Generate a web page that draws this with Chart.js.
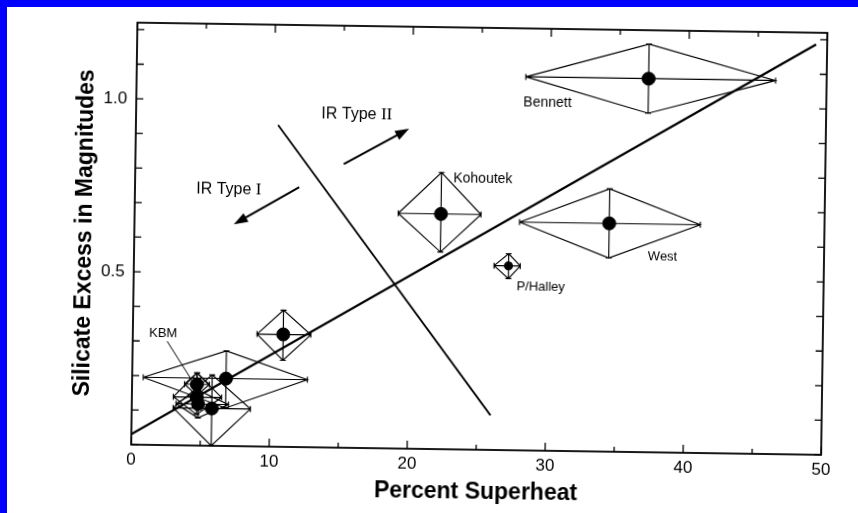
<!DOCTYPE html>
<html>
<head>
<meta charset="utf-8">
<script src="https://cdn.jsdelivr.net/npm/chart.js@4.4.1/dist/chart.umd.min.js"></script>
<style>
  html, body { margin: 0; padding: 0; background: #fff; }
  #wrap { position: relative; width: 858px; height: 513px; overflow: hidden; background: #fff; }
  #chart { position: absolute; left: 0; top: 0; transform: rotate(0.85deg); }
  .bar { position: absolute; background: #0000ff; z-index: 2; }
</style>
</head>
<body>
<div id="wrap">
  <canvas id="chart" width="858" height="513"></canvas>
  <div class="bar" style="left:0;top:0;width:858px;height:7px"></div>
  <div class="bar" style="left:0;top:0;width:7px;height:513px"></div>
</div>
<script>
// comet measurements: centre value and the ends of the error bars
const superheat = [37.1, 22.2, 34.4, 27.15, 10.9, 6.8, 4.7, 4.7, 4.8, 5.8];
const excess    = [1.08, 0.68, 0.66, 0.533, 0.325, 0.195, 0.177, 0.14, 0.12, 0.108];
const xLow  = [28.2, 19.1, 27.9, 26.1, 9.0, 0.8, 3.8, 3.0, 3.2, 3.0];
const xHigh = [46.3, 25.1, 41.0, 28.0, 12.9, 12.7, 5.6, 6.5, 7.0, 8.6];
const yLow  = [0.98, 0.57, 0.56, 0.496, 0.25, 0.11, 0.145, 0.09, 0.08, 0.0];
const yHigh = [1.18, 0.80, 0.76, 0.568, 0.395, 0.275, 0.21, 0.21, 0.16, 0.205];

// fitted line and the type I / type II divide
const fitX = [0, 49.2];
const fitY = [0.03, 1.186];
const divideX = [10.3, 26.0];
const divideY = [0.93, 0.10];

// axis ticks
const xTicks = [0, 5, 10, 15, 20, 25, 30, 35, 40, 45, 50];
const xTickLabels = ['0', '10', '20', '30', '40', '50'];
const yTicks = [0, 0.1, 0.2, 0.3, 0.4, 0.5, 0.6, 0.7, 0.8, 0.9, 1.0, 1.1, 1.2];
const yTickLabels = ['0.5', '1.0'];

// text notes on the plot
const noteText = ['Bennett', 'Kohoutek', 'West', 'P/Halley', 'KBM'];
const noteX = [29.8, 25.2, 38.3, 29.5, 2.2];
const noteY = [1.006, 0.783, 0.564, 0.474, 0.322];

// arrows: [x0, y0, x1, y1]
const arrows = [[15.1, 0.82, 19.8, 0.925], [11.9, 0.751, 7.2, 0.641]];

const sans = '"Liberation Sans", Arial, sans-serif';

const sketch = {
  id: 'sketch',
  beforeDatasetsDraw(chart) {
    const {ctx, scales: {x, y}} = chart;
    ctx.save();
    ctx.strokeStyle = '#000';
    ctx.lineWidth = 1.15;
    for (let i = 0; i < superheat.length; i++) {
      const cx = x.getPixelForValue(superheat[i]), cy = y.getPixelForValue(excess[i]);
      const l = x.getPixelForValue(xLow[i]), r = x.getPixelForValue(xHigh[i]);
      const t = y.getPixelForValue(yHigh[i]), b = y.getPixelForValue(yLow[i]);
      ctx.beginPath();
      ctx.moveTo(l, cy); ctx.lineTo(r, cy);
      ctx.moveTo(cx, t); ctx.lineTo(cx, b);
      ctx.moveTo(l, cy); ctx.lineTo(cx, t); ctx.lineTo(r, cy); ctx.lineTo(cx, b); ctx.lineTo(l, cy);
      ctx.moveTo(l, cy - 3); ctx.lineTo(l, cy + 3);
      ctx.moveTo(r, cy - 3); ctx.lineTo(r, cy + 3);
      ctx.moveTo(cx - 3, t); ctx.lineTo(cx + 3, t);
      ctx.moveTo(cx - 3, b); ctx.lineTo(cx + 3, b);
      ctx.stroke();
    }
    ctx.restore();
  },
  afterDatasetsDraw(chart) {
    const {ctx, chartArea: a, scales: {x, y}} = chart;
    ctx.save();
    // frame
    ctx.strokeStyle = '#000';
    ctx.lineWidth = 1.8;
    ctx.strokeRect(a.left, a.top, a.right - a.left, a.bottom - a.top);
    // inward ticks
    ctx.lineWidth = 1.3;
    ctx.beginPath();
    xTicks.forEach(v => {
      const px = x.getPixelForValue(v);
      const len = v % 10 === 0 ? 8 : 5;
      ctx.moveTo(px, a.bottom); ctx.lineTo(px, a.bottom - len);
      ctx.moveTo(px, a.top); ctx.lineTo(px, a.top + len);
    });
    yTicks.forEach(v => {
      const py = y.getPixelForValue(v);
      ctx.moveTo(a.left, py); ctx.lineTo(a.left + 7, py);
      ctx.moveTo(a.right, py); ctx.lineTo(a.right - 7, py);
    });
    ctx.stroke();
    // arrows
    ctx.fillStyle = '#000';
    arrows.forEach(([x0, y0, x1, y1]) => {
      const p0 = [x.getPixelForValue(x0), y.getPixelForValue(y0)];
      const p1 = [x.getPixelForValue(x1), y.getPixelForValue(y1)];
      const ang = Math.atan2(p1[1] - p0[1], p1[0] - p0[0]);
      ctx.lineWidth = 2;
      ctx.beginPath();
      ctx.moveTo(p0[0], p0[1]);
      ctx.lineTo(p1[0] - 8 * Math.cos(ang), p1[1] - 8 * Math.sin(ang));
      ctx.stroke();
      ctx.beginPath();
      ctx.moveTo(p1[0], p1[1]);
      ctx.lineTo(p1[0] - 14 * Math.cos(ang) + 5 * Math.sin(ang), p1[1] - 14 * Math.sin(ang) - 5 * Math.cos(ang));
      ctx.lineTo(p1[0] - 14 * Math.cos(ang) - 5 * Math.sin(ang), p1[1] - 14 * Math.sin(ang) + 5 * Math.cos(ang));
      ctx.closePath();
      ctx.fill();
    });
    // KBM pointer
    ctx.lineWidth = 1;
    ctx.beginPath();
    ctx.moveTo(x.getPixelForValue(2.5), y.getPixelForValue(0.30));
    ctx.lineTo(x.getPixelForValue(4.3), y.getPixelForValue(0.19));
    ctx.stroke();
    // notes
    ctx.textAlign = 'center';
    ctx.textBaseline = 'middle';
    noteText.forEach((t, i) => {
      ctx.font = (i < 2 ? '14px ' : '13px ') + sans;
      ctx.fillText(t, x.getPixelForValue(noteX[i]), y.getPixelForValue(noteY[i]));
    });
    // IR type labels: sans text with serif roman numerals
    const irLabel = (num, xv, yv) => {
      ctx.font = '16px ' + sans;
      const w1 = ctx.measureText('IR Type ').width;
      ctx.font = '17px "Liberation Serif", serif';
      const w2 = ctx.measureText(num).width;
      let sx = x.getPixelForValue(xv) - (w1 + w2) / 2;
      const sy = y.getPixelForValue(yv);
      ctx.textAlign = 'left';
      ctx.font = '16px ' + sans;
      ctx.fillText('IR Type ', sx, sy);
      ctx.font = '17px "Liberation Serif", serif';
      ctx.fillText(num, sx + w1, sy);
    };
    irLabel('II', 16.0, 0.965);
    irLabel('I', 6.8, 0.742);
    ctx.restore();
  }
};

new Chart(document.getElementById('chart'), {
  type: 'scatter',
  data: {
    datasets: [
      {
        data: superheat.map((v, i) => ({x: v, y: excess[i]})),
        backgroundColor: '#000',
        borderColor: '#000',
        pointRadius: superheat.map((v, i) => i === 3 ? 4 : 6.5),
        order: 0
      },
      {
        type: 'line',
        data: fitX.map((v, i) => ({x: v, y: fitY[i]})),
        borderColor: '#000',
        borderWidth: 2.2,
        pointRadius: 0,
        order: 1
      },
      {
        type: 'line',
        data: divideX.map((v, i) => ({x: v, y: divideY[i]})),
        borderColor: '#000',
        borderWidth: 1.8,
        pointRadius: 0,
        order: 1
      }
    ]
  },
  options: {
    responsive: false,
    devicePixelRatio: 1,
    animation: false,
    layout: {padding: {top: 27, right: 34, left: 0, bottom: 0}},
    plugins: {legend: {display: false}, tooltip: {enabled: false}},
    scales: {
      x: {
        type: 'linear', min: 0, max: 50,
        afterBuildTicks: s => { s.ticks = xTicks.map(v => ({value: v})); },
        afterFit: s => { s.height = 64; },
        grid: {display: false, drawTicks: false, tickLength: 0},
        border: {display: false},
        ticks: {
          color: '#000', padding: 5, maxRotation: 0, autoSkip: false,
          font: {family: sans, size: 17},
          callback: v => xTickLabels.includes(String(v)) ? String(v) : ''
        },
        title: {
          display: true, text: 'Percent Superheat', color: '#000',
          font: {family: sans, size: 23, weight: 'bold'},
          padding: {top: 0, bottom: 8}
        }
      },
      y: {
        type: 'linear', min: 0, max: 1.22,
        afterBuildTicks: s => { s.ticks = yTicks.map(v => ({value: v})); },
        afterFit: s => { s.width = 134; },
        grid: {display: false, drawTicks: false, tickLength: 0},
        border: {display: false},
        ticks: {
          color: '#000', padding: 9, autoSkip: false,
          font: {family: sans, size: 17},
          callback: v => yTickLabels.includes(v.toFixed(1)) ? v.toFixed(1) : ''
        },
        title: {
          display: true, text: 'Silicate Excess in Magnitudes', color: '#000',
          font: {family: sans, size: 23, weight: 'bold'},
          padding: {top: 71, bottom: 0}
        }
      }
    }
  },
  plugins: [sketch]
});
</script>
</body>
</html>
